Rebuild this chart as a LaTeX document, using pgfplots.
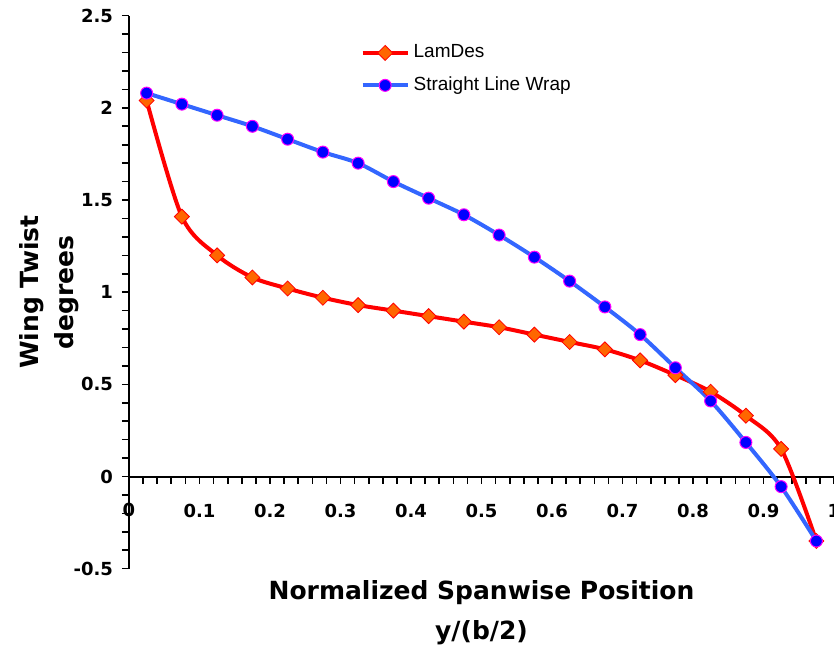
\documentclass[border=0pt]{standalone}
\usepackage{fontspec}
\setmainfont{DejaVu Sans}
\newfontfamily\legfont{Liberation Sans}
\usepackage{pgfplots}
\pgfplotsset{compat=1.18}
\definecolor{lamred}{RGB}{255,0,0}
\definecolor{lamorange}{RGB}{255,102,0}
\definecolor{slwblue}{RGB}{51,102,255}
\definecolor{mkblue}{RGB}{0,0,255}
\definecolor{mkmag}{RGB}{255,0,255}
\begin{document}
\begin{tikzpicture}
\begin{axis}[
  name=ax,
  scale only axis,
  clip=false,
  width=352.5pt, height=276.5pt,
  xmin=0, xmax=1, ymin=-0.5, ymax=2.5,
  axis x line=middle, axis y line=left,
  axis line style={-, line width=1pt, black},
  xtick={0,0.1,0.2,0.3,0.4,0.5,0.6,0.7,0.8,0.9,1},
  ytick={-0.5,0,0.5,1,1.5,2,2.5},
  minor x tick num=4, minor y tick num=4,
  tick align=outside,
  major tick length=3.5pt, minor tick length=3.5pt,
  tick style={line width=0.8pt, black},
  /pgf/number format/assume math mode=true,
  ticklabel style={font=\bfseries\fontsize{9}{10}\selectfont},
  xticklabel style={yshift=-7pt},
  yticklabel style={xshift=-1pt},
  every axis x label/.style={at={(axis description cs:0.5,-0.0796)}, anchor=center, align=center, font=\bfseries\fontsize{12.5}{20}\selectfont},
  every axis y label/.style={at={(axis description cs:-0.1128,0.5)}, anchor=center, rotate=90, align=center, font=\bfseries\fontsize{12.5}{17.5}\selectfont},
  xlabel={Normalized Spanwise Position\\y/(b/2)},
  ylabel={Wing Twist\\degrees},
  legend style={at={(axis description cs:0.328,0.903)}, anchor=west, draw=none, fill=none, inner sep=0pt, row sep=4pt, font=\legfont\fontsize{9.5}{11}\selectfont},
  legend cell align=left,
  legend image code/.code={\draw[mark repeat=2,mark phase=2,#1] plot coordinates {(0pt,0pt) (11.25pt,0pt) (22.5pt,0pt)};},
]
\addplot[smooth, color=lamred, line width=2pt, mark=square*, mark size=2.65pt, mark options={rotate=45, fill=lamorange, draw=lamred, line width=0.4pt}] coordinates {
(0.025,2.04) (0.075,1.41) (0.125,1.20) (0.175,1.08) (0.225,1.02)
(0.275,0.97) (0.325,0.93) (0.375,0.90) (0.425,0.87) (0.475,0.84)
(0.525,0.81) (0.575,0.77) (0.625,0.73) (0.675,0.69) (0.725,0.63)
(0.775,0.55) (0.825,0.46) (0.875,0.33) (0.925,0.15) (0.975,-0.35)
};
\addlegendentry{LamDes}
\addplot[smooth, color=slwblue, line width=2pt, mark=*, mark size=3pt, mark options={fill=mkblue, draw=mkmag, line width=0.5pt}] coordinates {
(0.025,2.08) (0.075,2.02) (0.125,1.96) (0.175,1.90) (0.225,1.83)
(0.275,1.76) (0.325,1.70) (0.375,1.60) (0.425,1.51) (0.475,1.42)
(0.525,1.31) (0.575,1.19) (0.625,1.06) (0.675,0.92) (0.725,0.77)
(0.775,0.59) (0.825,0.41) (0.875,0.185) (0.925,-0.055) (0.975,-0.35)
};
\addlegendentry{Straight Line Wrap}
\node[anchor=center, font=\bfseries\fontsize{9}{10}\selectfont] at (axis cs:0,-0.184) {0};
\end{axis}
\pgfresetboundingbox
\path[use as bounding box] ([xshift=-64.5pt,yshift=-40.5pt]ax.south west) rectangle ([yshift=7.85pt]ax.north east);
\end{tikzpicture}
\end{document}
